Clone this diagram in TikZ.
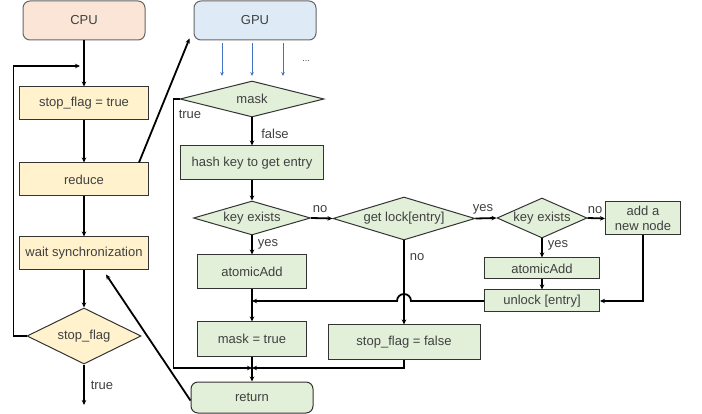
\documentclass[tikz,border=0pt]{standalone}
\usepackage{fontspec}
\setmainfont{Liberation Sans}
\usetikzlibrary{shapes.geometric,arrows.meta,calc}
\definecolor{peach}{HTML}{FBE5D6}
\definecolor{lblue}{HTML}{DEEBF7}
\definecolor{yel}{HTML}{FFF2CC}
\definecolor{grn}{HTML}{E2F0D9}
\definecolor{txt}{HTML}{404040}
\definecolor{barrow}{HTML}{4472C4}
\begin{document}
\begin{tikzpicture}[x=1pt,y=-1pt,
  font=\fontsize{13}{15}\selectfont,
  box/.style={draw=black!80, line width=1pt, inner sep=0pt, text=txt},
  ybox/.style={box, fill=yel, minimum width=129, minimum height=33},
  gbox/.style={box, fill=grn},
  head/.style={box, draw=black!60, rounded corners=7pt, minimum width=122, minimum height=39},
  dia/.style={box, diamond, inner sep=0pt},
  arr/.style={draw=black, line width=1.8pt, -{Stealth[length=5pt,width=4.5pt]}},
  barr/.style={draw=barrow, line width=1pt, -{Stealth[length=4pt,width=3.5pt]}},
  lbl/.style={text=txt, inner sep=0pt}]
\useasboundingbox (0,0) rectangle (702,414);
% CPU column
\node[head, fill=peach] (cpu) at (84,20.5) {CPU};
\node[ybox] (sft) at (84,103.5) {stop\_flag = true};
\node[ybox] (red) at (84,179.5) {reduce};
\node[ybox] (wait) at (84,253.5) {wait synchronization};
\node[dia, fill=yel, minimum width=114, minimum height=56, aspect=2] (sf) at (84,336) {stop\_flag};
\coordinate (loopend) at (80,66);
\coordinate (sfout) at (84,405);
% GPU column
\node[head, fill=lblue] (gpu) at (255,20.5) {GPU};
\node[dia, fill=grn, minimum width=144, minimum height=36, aspect=4] (mask) at (252,99) {mask};
\node[gbox, minimum width=143, minimum height=34] (hash) at (252,163) {hash key to get entry};
\node[dia, fill=grn, minimum width=117, minimum height=34, aspect=3.4] (ke1) at (252,218) {key exists};
\node[dia, fill=grn, minimum width=142, minimum height=43, aspect=3.3] (lock) at (404,218.5) {get lock[entry]};
\node[dia, fill=grn, minimum width=90, minimum height=40, aspect=2.25] (ke2) at (542,218) {key exists};
\node[gbox, minimum width=75, minimum height=33, align=center, font=\fontsize{13}{14.5}\selectfont] (add) at (643,218.5) {add a\\new node};
\node[gbox, minimum width=115, minimum height=21] (aa2) at (542,268.5) {atomicAdd};
\node[gbox, minimum width=115, minimum height=22] (unl) at (542,301) {unlock [entry]};
\node[gbox, minimum width=109, minimum height=34] (aa1) at (252,272) {atomicAdd};
\node[gbox, minimum width=109, minimum height=34] (mt) at (252,339) {mask = true};
\node[gbox, minimum width=152, minimum height=34] (sff) at (404,342) {stop\_flag = false};
\node[head, fill=grn, draw=black!80, minimum height=31] (ret) at (252,397.5) {return};
\coordinate (j1) at (252,368);
\coordinate (j2) at (252,301);
\coordinate (hopR) at ($(lock.south)+(7,0)$);
% blue thread arrows
\coordinate (b1s) at (222,43); \coordinate (b1e) at (222,76);
\coordinate (b2s) at (252,43); \coordinate (b2e) at (252,76);
\coordinate (b3s) at (283,43); \coordinate (b3e) at (283,76);
\draw[barr] (b1s) -- (b1e);
\draw[barr] (b2s) -- (b2e);
\draw[barr] (b3s) -- (b3e);
\node[lbl, font=\fontsize{9}{10}\selectfont] (dots) at (306,61) {...};
% CPU connectors
\draw[arr] (cpu) -- (sft);
\draw[arr] (sft) -- (red);
\draw[arr] (red) -- (wait);
\draw[arr] (wait) -- (sf);
\draw[arr] (sf.west) -- ++(-13,0) |- (loopend);
\draw[arr] (sf.south) -- (sfout);
\node[lbl] (ltrue1) at (102,385) {true};
\draw[arr] ($(red.north east)+(-10,0)$) -- ($(gpu.south west)+(-4,-2)$);
\draw[arr] ($(ret.west)+(0,3)$) -- ($(wait.south east)+(-43,4)$);
% GPU connectors
\draw[arr] (mask.south) -- (hash.north);
\node[lbl] (lfalse) at (275,134) {false};
\draw[arr] (mask.west) -- ++(-6,0) |- (j1);
\node[lbl] (ltrue2) at (190,114) {true};
\draw[arr] (hash) -- (ke1);
\draw[arr] (ke1.east) -- (lock.west);
\node[lbl] (lno1) at (320,209) {no};
\draw[arr] (lock.east) -- (ke2.west);
\node[lbl] (lyes1) at (483,209) {yes};
\draw[arr] (ke2.east) -- (add.west);
\node[lbl] (lno2) at (595,210) {no};
\draw[arr] (ke2.south) -- (aa2.north);
\node[lbl] (lyes2) at (558,245) {yes};
\draw[arr] (aa2) -- (unl);
\draw[arr] (add.south) |- (unl.east);
\draw[arr] (unl.west) -- (unl.west -| hopR) arc[start angle=0, end angle=-180, radius=7] -- (j2);
\draw[arr] (ke1.south) -- (aa1.north);
\node[lbl] (lyes3) at (268,244) {yes};
\draw[arr] (aa1) -- (mt);
\draw[arr] (lock.south) -- (sff.north);
\node[lbl] (lno3) at (417,257) {no};
\draw[arr] (sff.south) |- (j1);
\draw[arr] (mt) -- (ret);
\end{tikzpicture}
\end{document}
